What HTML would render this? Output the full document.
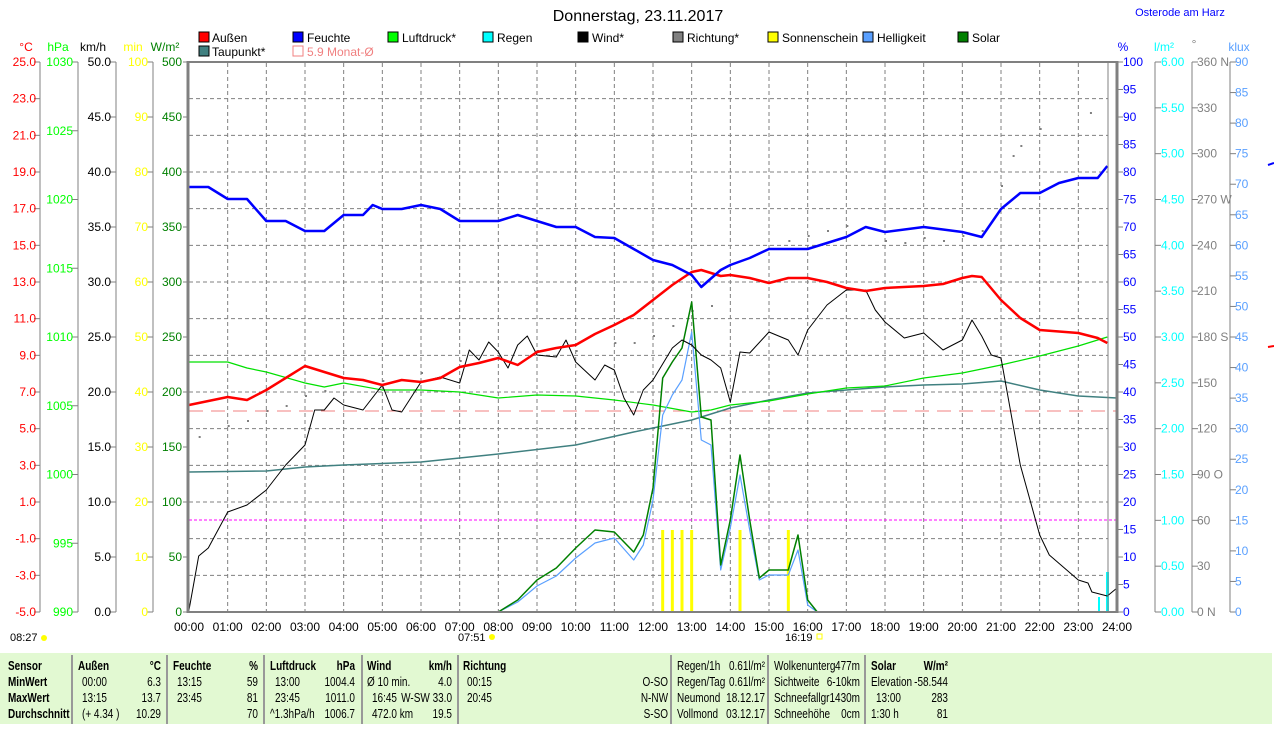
<!DOCTYPE html>
<html><head><meta charset="utf-8">
<style>
body{margin:0;background:#fff;width:1274px;height:724px;overflow:hidden;font-family:"Liberation Sans",sans-serif}
svg text{font-family:"Liberation Sans",sans-serif;font-size:12px}
svg .tb text{font-size:12.5px}
</style></head><body>
<svg id="s" width="1274" height="724" xmlns="http://www.w3.org/2000/svg">
<rect x="0" y="653" width="1272" height="71" fill="#e2f9d2"/>
<g id="grid" stroke="#808080" stroke-dasharray="4,3" stroke-width="1"></g>
<line x1="189" y1="411" x2="1117" y2="411" stroke="#f08080" stroke-dasharray="14,8"/>
<line x1="189" y1="520" x2="1117" y2="520" stroke="#ff00ff" stroke-dasharray="3,2"/>
<g id="series"></g>
<line x1="188" y1="62" x2="1118" y2="62" stroke="#808080" stroke-width="2"/>
<line x1="188" y1="61" x2="188" y2="613" stroke="#808080" stroke-width="3"/>
<line x1="1117" y1="61" x2="1117" y2="613" stroke="#808080" stroke-width="3"/>
<line x1="1108" y1="62" x2="1108" y2="612" stroke="#808080" stroke-width="1"/>
<line x1="188" y1="612" x2="1118" y2="612" stroke="#808080" stroke-width="2"/>
<g id="axes" stroke="#808080"></g>
<text x="638" y="21" text-anchor="middle" style="font-size:16px" fill="#000">Donnerstag, 23.11.2017</text>
<text x="1180" y="16" text-anchor="middle" fill="#0000ff" style="font-size:11px">Osterode am Harz</text>
<g style="font-size:12px">
<rect x="199" y="32" width="10" height="10" fill="#ff0000" stroke="#000"/><text x="212" y="42">Außen</text>
<rect x="293" y="32" width="10" height="10" fill="#0000ff" stroke="#000"/><text x="307" y="42">Feuchte</text>
<rect x="388" y="32" width="10" height="10" fill="#00ff00" stroke="#000"/><text x="402" y="42">Luftdruck*</text>
<rect x="483" y="32" width="10" height="10" fill="#00ffff" stroke="#000"/><text x="497" y="42">Regen</text>
<rect x="578" y="32" width="10" height="10" fill="#000000" stroke="#000"/><text x="592" y="42">Wind*</text>
<rect x="673" y="32" width="10" height="10" fill="#808080" stroke="#000"/><text x="687" y="42">Richtung*</text>
<rect x="768" y="32" width="10" height="10" fill="#ffff00" stroke="#000"/><text x="782" y="42">Sonnenschein</text>
<rect x="863" y="32" width="10" height="10" fill="#5aa0ff" stroke="#000"/><text x="877" y="42">Helligkeit</text>
<rect x="958" y="32" width="10" height="10" fill="#008000" stroke="#000"/><text x="972" y="42">Solar</text>
<rect x="199" y="46" width="10" height="10" fill="#408080" stroke="#000"/><text x="212" y="56">Taupunkt*</text>
<rect x="293" y="46" width="10" height="10" fill="none" stroke="#f08080"/><text x="307" y="56" fill="#f08080">5.9 Monat-Ø</text>
</g>
<text x="26" y="51" text-anchor="middle" fill="#ff0000">°C</text>
<text x="58" y="51" text-anchor="middle" fill="#00ff00">hPa</text>
<text x="93" y="51" text-anchor="middle">km/h</text>
<text x="133" y="51" text-anchor="middle" fill="#ffff00">min</text>
<text x="165" y="51" text-anchor="middle" fill="#008000">W/m²</text>
<text x="1123" y="51" text-anchor="middle" fill="#0000ff">%</text>
<text x="1164" y="51" text-anchor="middle" fill="#00ffff">l/m²</text>
<text x="1194" y="48" text-anchor="middle" fill="#808080">°</text>
<text x="1239" y="51" text-anchor="middle" fill="#5aa0ff">klux</text>
<g id="labels"></g>
<g id="times" style="font-size:11px"></g>
<text x="10" y="641" style="font-size:11px">08:27</text><circle cx="44" cy="638" r="3" fill="#ffff00"/>
<text x="458" y="641" style="font-size:11px">07:51</text><circle cx="492" cy="637" r="3" fill="#ffff00"/>
<text x="785" y="641" style="font-size:11px">16:19</text><rect x="817" y="634" width="5" height="5" fill="none" stroke="#ffff00"/>
<g stroke="#999" stroke-width="2">
<line x1="72" y1="655" x2="72" y2="724"/><line x1="167" y1="655" x2="167" y2="724"/><line x1="264" y1="655" x2="264" y2="724"/><line x1="362" y1="655" x2="362" y2="724"/><line x1="458" y1="655" x2="458" y2="724"/><line x1="671" y1="655" x2="671" y2="724"/><line x1="768" y1="655" x2="768" y2="724"/><line x1="865" y1="655" x2="865" y2="724"/>
</g>
<g class="tb" id="tb">
<g font-weight="bold"><text x="8" y="670">Sensor</text><text x="8" y="686">MinWert</text><text x="8" y="702">MaxWert</text><text x="8" y="718">Durchschnitt</text>
<text x="78" y="670">Außen</text><text x="161" y="670" text-anchor="end">°C</text>
<text x="173" y="670">Feuchte</text><text x="258" y="670" text-anchor="end">%</text>
<text x="270" y="670">Luftdruck</text><text x="355" y="670" text-anchor="end">hPa</text>
<text x="367" y="670">Wind</text><text x="452" y="670" text-anchor="end">km/h</text>
<text x="463" y="670">Richtung</text>
<text x="871" y="670">Solar</text><text x="948" y="670" text-anchor="end">W/m²</text></g>
<text x="82" y="686">00:00</text><text x="161" y="686" text-anchor="end">6.3</text>
<text x="82" y="702">13:15</text><text x="161" y="702" text-anchor="end">13.7</text>
<text x="82" y="718">(+ 4.34 )</text><text x="161" y="718" text-anchor="end">10.29</text>
<text x="177" y="686">13:15</text><text x="258" y="686" text-anchor="end">59</text>
<text x="177" y="702">23:45</text><text x="258" y="702" text-anchor="end">81</text>
<text x="258" y="718" text-anchor="end">70</text>
<text x="275" y="686">13:00</text><text x="355" y="686" text-anchor="end">1004.4</text>
<text x="275" y="702">23:45</text><text x="355" y="702" text-anchor="end">1011.0</text>
<text x="270" y="718">^1.3hPa/h</text><text x="355" y="718" text-anchor="end">1006.7</text>
<text x="367" y="686">Ø 10 min.</text><text x="452" y="686" text-anchor="end">4.0</text>
<text x="372" y="702">16:45</text><text x="452" y="702" text-anchor="end">W-SW 33.0</text>
<text x="372" y="718">472.0 km</text><text x="452" y="718" text-anchor="end">19.5</text>
<text x="467" y="686">00:15</text><text x="467" y="702">20:45</text>
<text x="668" y="686" text-anchor="end">O-SO</text><text x="668" y="702" text-anchor="end">N-NW</text><text x="668" y="718" text-anchor="end">S-SO</text>
<text x="677" y="670">Regen/1h</text><text x="765" y="670" text-anchor="end">0.61l/m²</text>
<text x="677" y="686">Regen/Tag</text><text x="765" y="686" text-anchor="end">0.61l/m²</text>
<text x="677" y="702">Neumond</text><text x="765" y="702" text-anchor="end">18.12.17</text>
<text x="677" y="718">Vollmond</text><text x="765" y="718" text-anchor="end">03.12.17</text>
<text x="774" y="670">Wolkenunterg</text><text x="860" y="670" text-anchor="end">477m</text>
<text x="774" y="686">Sichtweite</text><text x="860" y="686" text-anchor="end">6-10km</text>
<text x="774" y="702">Schneefallgr</text><text x="860" y="702" text-anchor="end">1430m</text>
<text x="774" y="718">Schneehöhe</text><text x="860" y="718" text-anchor="end">0cm</text>
<text x="871" y="686">Elevation</text><text x="948" y="686" text-anchor="end">-58.544</text>
<text x="876" y="702">13:00</text><text x="948" y="702" text-anchor="end">283</text>
<text x="871" y="718">1:30 h</text><text x="948" y="718" text-anchor="end">81</text>
</g>
<line x1="1268" y1="165" x2="1274" y2="163" stroke="#0000ff" stroke-width="2"/>
<line x1="1268" y1="347" x2="1274" y2="346" stroke="#ff0000" stroke-width="2"/>
</svg>
<script>
var NS="http://www.w3.org/2000/svg";
function el(p,t,a,txt){var e=document.createElementNS(NS,t);for(var k in a)e.setAttribute(k,a[k]);if(txt!==undefined)e.textContent=txt;document.getElementById(p).appendChild(e);return e;}
function X(h){return 189+38.667*h;}
for(var k=1;k<24;k++)el('grid','line',{x1:X(k),y1:63,x2:X(k),y2:611});
for(var k=1;k<15;k++){var y=62+36.667*k;el('grid','line',{x1:189,y1:y,x2:1108,y2:y});}
function pl(arr,col,w){var s=[];for(var i=0;i<arr.length;i+=2)s.push(X(arr[i]).toFixed(1)+','+arr[i+1]);el('series','polyline',{points:s.join(' '),fill:'none',stroke:col,'stroke-width':w,'stroke-linejoin':'round'});}
var dots=[[0.25,436],[1,425],[1.5,420],[2,410],[2.5,405],[3,395],[3.5,390],[5,380],[6,372],[7,360],[8,355],[9,350],[10,350],[11,342],[11.5,342],[12,335],[12.5,325],[13,310],[13.5,305],[15,248],[15.5,240],[16,235],[16.5,230],[17,225],[18,240],[18.5,242],[19,237],[19.5,240],[20,235],[20.5,230],[21,185],[21.3,155],[21.5,145],[22,128],[23.3,112]];
dots.forEach(function(d){el('series','rect',{x:X(d[0]),y:d[1],width:2,height:2,fill:'#808080'});});
[12.25,12.5,12.75,13,14.25,15.5].forEach(function(h){el('series','rect',{x:X(h)-1.5,y:530,width:3,height:82,fill:'#ffff00'});});
el('series','rect',{x:1098,y:597,width:2,height:15,fill:'#00ffff'});
el('series','rect',{x:1106,y:572,width:3,height:40,fill:'#00ffff'});
pl([0,472,2,471,3,467,4,465,6,462,8,454,10,445,11.5,432,12,428,13,420,14,408,15,400,16,393,17,390,18,387,19,385,20,384,21,381,22,390,23,396,24,398],'#408080',1.5);
pl([0,362,1,362,1.5,368,2,372,3,383,3.5,387,4,383,5,390,6,390,7,392,8,398,9,395,10,396,11,400,12,405,13,412,13.5,410,14,405,15,401,16,394,17,388,18,386,19,378,20,373,21,365,22,356,23,346,23.75,337],'#00e000',1.2);
pl([8,612,8.5,602,9,586,9.5,576,10,558,10.5,543,11,538,11.5,560,11.75,545,12,500,12.25,415,12.5,395,12.75,380,13,332,13.25,440,13.5,445,13.75,570,14,528,14.25,475,14.5,530,14.75,580,15,575,15.5,575,15.75,550,16,605,16.25,612,16.5,612],'#5aa0ff',1.2);
pl([8,612,8.5,600,9,580,9.5,568,10,548,10.5,530,11,532,11.5,552,11.75,535,12,488,12.25,378,12.5,362,12.75,348,13,302,13.25,417,13.5,420,13.75,565,14,520,14.25,455,14.5,520,14.75,578,15,570,15.5,570,15.75,535,16,600,16.25,612],'#008000',1.5);
pl([0,610,0.25,556,0.5,548,1,512,1.5,505,2,490,2.5,465,3,445,3.25,410,3.5,410,3.75,398,4,405,4.5,410,5,385,5.25,410,5.5,412,6,382,6.5,377,7,383,7.25,350,7.5,360,7.75,342,8,352,8.25,368,8.5,345,8.75,336,9,355,9.5,357,9.75,340,10,362,10.5,380,10.75,365,11,370,11.25,398,11.5,415,11.75,390,12,380,12.5,348,12.75,340,13,345,13.25,355,13.5,360,13.75,368,14,402,14.25,352,14.5,353,15,332,15.5,340,15.75,355,16,330,16.5,305,17,290,17.5,290,17.75,310,18,322,18.5,338,19,333,19.5,350,20,340,20.25,320,20.5,336,20.75,355,21,358,21.5,465,22,535,22.25,555,23,580,23.25,583,23.35,592,23.75,596,24,588],'#000',1);
pl([0,405,1,397,1.5,400,2,390,2.5,378,3,366,3.5,372,4,378,4.5,380,5,385,5.5,380,6,382,6.5,378,7,367,7.5,363,8,358,8.5,365,9,352,9.5,348,10,345,10.5,334,11,325,11.5,315,12,300,12.5,285,13,272,13.25,270,13.75,276,14,275,14.5,278,15,283,15.5,278,16,278,16.5,282,17,288,17.5,291,18,288,19,286,19.5,284,20,278,20.25,276,20.5,277,21,300,21.5,318,22,330,23,333,23.5,338,23.75,343],'#ff0000',2.5);
pl([0,187,0.5,187,1,199,1.5,199,2,221,2.5,221,3,231,3.5,231,4,215,4.5,215,4.75,205,5,209,5.5,209,6,205,6.5,209,7,221,8,221,8.5,215,9,221,9.5,227,10,227,10.5,237,11,238,11.5,249,12,260,12.5,265,13,275,13.25,287,13.75,270,14,265,14.5,258,15,249,16,249,16.5,243,17,237,17.5,227,18,232,19,227,20,232,20.5,237,21,209,21.5,193,22,193,22.5,183,23,178,23.5,178,23.75,166],'#0000ff',2.5);
function vaxis(x,tx,col,from,to,step,dec,y0,y1,anchor,suffix){el('axes','line',{x1:x,y1:y0,x2:x,y2:y1});var n=Math.round((to-from)/step);for(var i=0;i<=n;i++){var v=from+i*step,y=y0+(y1-y0)*i/n;var tl=anchor=='end'?x-6:x;el('axes','line',{x1:tl,y1:y,x2:tl+6,y2:y});el('labels','text',{x:tx,y:y+4,fill:col,'text-anchor':anchor},v.toFixed(dec)+(suffix?suffix(v):''));}}
vaxis(40,36,'#ff0000',25,-5,-2,1,62,612,'end');
vaxis(78,73,'#00ff00',1030,990,-5,0,62,612,'end');
vaxis(116,111,'#000',50,0,-5,1,62,612,'end');
vaxis(153,148,'#ffff00',100,0,-10,0,62,612,'end');
(function(){for(var i=0;i<=10;i++){var y=62+55*i;el('axes','line',{x1:183,y1:y,x2:188,y2:y});el('labels','text',{x:182,y:y+4,fill:'#008000','text-anchor':'end'},String(500-50*i));}})();
vaxis(1117,1123,'#0000ff',100,0,-5,0,62,612,'start');
vaxis(1155,1161,'#00ffff',6,0,-0.5,2,62,612,'start');
vaxis(1192,1197,'#808080',360,0,-30,0,62,612,'start',function(v){return {360:' N',270:' W',180:' S',90:' O',0:'   N'}[v]||'';});
vaxis(1230,1235,'#5aa0ff',90,0,-5,0,62,612,'start');
for(var k=0;k<=24;k++)el('times','text',{x:X(k),y:631,'text-anchor':'middle'},(k<10?'0':'')+k+':00');
// condense table text horizontally around its anchor
Array.prototype.forEach.call(document.querySelectorAll('#tb text'),function(t){var x=parseFloat(t.getAttribute('x'));t.setAttribute('transform','translate('+x+',0) scale(0.8,1) translate('+(-x)+',0)');});
</script>
</body></html>
